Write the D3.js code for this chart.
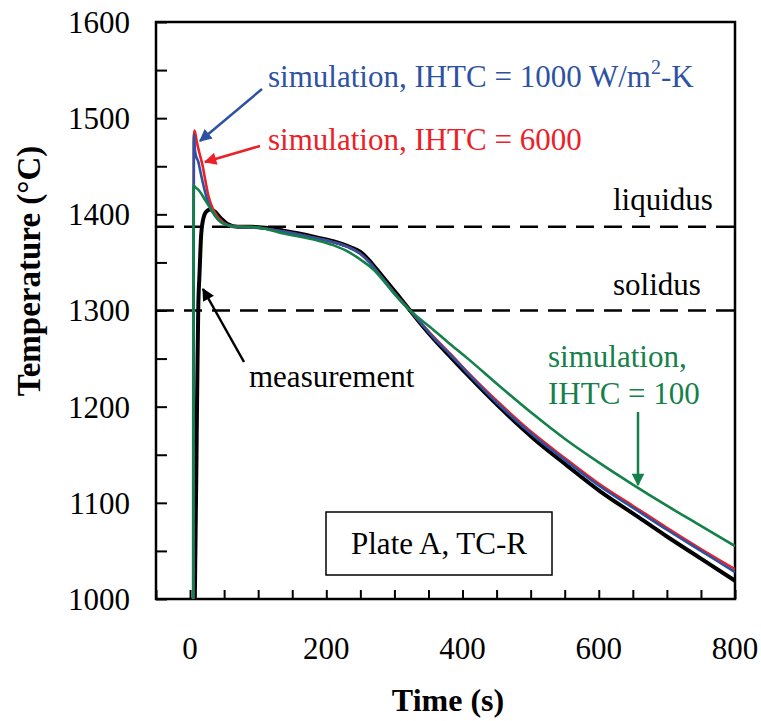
<!DOCTYPE html>
<html>
<head>
<meta charset="utf-8">
<script src="https://cdn.jsdelivr.net/npm/d3@7"></script>
<style>
  body { margin: 0; background: #fff; }
  text { font-family: "Liberation Serif", "Times New Roman", serif; }
</style>
</head>
<body>
<div id="chart"></div>
<script>
var svgWidth = 761;
var svgHeight = 721;

var margin = { top: 22, bottom: 122, right: 26, left: 156 };
var width = svgWidth - margin.left - margin.right;
var height = svgHeight - margin.top - margin.bottom;

// Data: [time (s), temperature (C)]
var measurement = [
  [7, 1000], [9, 1120], [11, 1250], [12, 1300], [14, 1340], [16, 1375], [19, 1394],
  [24, 1403], [30, 1405], [36, 1403], [45, 1396], [55, 1390], [70, 1387], [90, 1387],
  [110, 1386], [137, 1383], [160, 1380], [186, 1376], [210, 1372], [235, 1366],
  [250, 1361], [262, 1353], [275, 1342], [290, 1329], [305, 1316], [323, 1300],
  [340, 1285], [357, 1271], [382, 1252], [406, 1234], [455, 1199], [504, 1167],
  [553, 1139], [602, 1112], [650, 1089], [700, 1065], [750, 1042], [800, 1019]
];
var ihtc6000 = [
  [5, 1000], [5.5, 1480], [6.5, 1487], [10, 1475], [14, 1463], [18, 1452], [22, 1437],
  [27, 1419], [34, 1405], [41, 1397], [50, 1391], [60, 1388], [80, 1387], [100, 1386],
  [137, 1382], [160, 1379], [186, 1375], [210, 1371], [235, 1365], [250, 1359],
  [262, 1351], [275, 1340], [290, 1327], [305, 1314], [323, 1300], [340, 1286],
  [357, 1273], [382, 1255], [406, 1237], [455, 1203], [504, 1172], [553, 1145],
  [602, 1119], [650, 1097], [700, 1074], [750, 1052], [800, 1031]
];
var ihtc1000 = [
  [5, 1000], [5.5, 1475], [6, 1483], [7, 1468], [9, 1460], [12, 1455], [15, 1445],
  [19, 1432], [24, 1418], [30, 1406], [37, 1398], [45, 1392], [55, 1389], [70, 1387],
  [100, 1386], [137, 1382], [160, 1379], [186, 1375], [210, 1371], [235, 1365],
  [250, 1359], [262, 1351], [275, 1340], [290, 1327], [305, 1314], [323, 1300],
  [340, 1286], [357, 1272], [382, 1254], [406, 1236], [455, 1201], [504, 1170],
  [553, 1143], [602, 1117], [650, 1095], [700, 1072], [750, 1050], [800, 1028]
];
var ihtc100 = [
  [4.5, 1000], [5, 1430], [8, 1428], [14, 1424], [22, 1415], [32, 1404], [42, 1394],
  [54, 1389], [70, 1387], [90, 1387], [110, 1385], [137, 1380], [160, 1377],
  [186, 1373], [210, 1368], [235, 1360], [250, 1353], [270, 1342], [285, 1330],
  [300, 1317], [323, 1300], [357, 1280], [382, 1265], [406, 1251], [455, 1221],
  [504, 1192], [553, 1165], [602, 1141], [650, 1119], [700, 1097], [750, 1076],
  [800, 1055]
];

var liquidus = 1387;
var solidus = 1300;

var xTicks = d3.range(-50, 801, 50);
var xTickLabels = [0, 200, 400, 600, 800];
var yTicks = d3.range(1000, 1601, 50);
var yTickLabels = [1000, 1100, 1200, 1300, 1400, 1500, 1600];

var blue = "#2d52a3";
var red = "#ec2027";
var green = "#14804a";

var svg = d3.select("#chart")
  .append("svg")
  .attr("width", svgWidth)
  .attr("height", svgHeight);

var defs = svg.append("defs");
defs.append("clipPath").attr("id", "plotClip")
  .append("rect").attr("width", width).attr("height", height);

function marker(id, color) {
  defs.append("marker")
    .attr("id", id)
    .attr("viewBox", "0 0 10 10")
    .attr("refX", 9).attr("refY", 5)
    .attr("markerWidth", 6).attr("markerHeight", 5)
    .attr("markerUnits", "strokeWidth")
    .attr("orient", "auto")
    .append("path")
    .attr("d", "M0,0 L10,5 L0,10 Z")
    .attr("fill", color);
}
marker("arrBlue", blue);
marker("arrRed", red);
marker("arrGreen", green);
marker("arrBlack", "#000");

var chartGroup = svg.append("g")
  .attr("transform", `translate(${margin.left}, ${margin.top})`);

var xScale = d3.scaleLinear().domain([-50, 800]).range([0, width]);
var yScale = d3.scaleLinear().domain([1000, 1600]).range([height, 0]);

// axes (ticks pointing inwards)
var bottomAxis = d3.axisBottom(xScale)
  .tickValues(xTicks)
  .tickSizeInner(-9).tickSizeOuter(0)
  .tickFormat("");
var leftAxis = d3.axisLeft(yScale)
  .tickValues(yTicks)
  .tickSizeInner(-11).tickSizeOuter(0)
  .tickFormat("");

var xAxis = chartGroup.append("g")
  .attr("transform", `translate(0, ${height})`)
  .call(bottomAxis);
var yAxis = chartGroup.append("g").call(leftAxis);
[xAxis, yAxis].forEach(function(a) {
  a.selectAll("path").remove();
  a.selectAll("line").attr("stroke", "#000").attr("stroke-width", 2);
});

// frame
chartGroup.append("rect")
  .attr("width", width).attr("height", height)
  .attr("fill", "none").attr("stroke", "#000").attr("stroke-width", 2.5);

chartGroup.selectAll(".xlab")
  .data(xTickLabels)
  .enter().append("text")
  .attr("x", d => xScale(d))
  .attr("y", height + 60)
  .attr("text-anchor", "middle")
  .style("font-size", "31px")
  .text(d => d);

chartGroup.selectAll(".ylab")
  .data(yTickLabels)
  .enter().append("text")
  .attr("x", -26)
  .attr("y", d => yScale(d))
  .attr("dy", "0.35em")
  .attr("text-anchor", "end")
  .style("font-size", "31px")
  .text(d => d);

// axis titles
svg.append("text")
  .attr("x", 448)
  .attr("y", 711)
  .attr("text-anchor", "middle")
  .style("font-size", "32px").style("font-weight", "bold")
  .text("Time (s)");

svg.append("text")
  .attr("transform", "translate(40, 271) rotate(-90)")
  .attr("text-anchor", "middle")
  .style("font-size", "33px").style("font-weight", "bold")
  .text("Temperature (°C)");

// liquidus / solidus dashed lines
chartGroup.selectAll(".dash")
  .data([liquidus, solidus])
  .enter().append("line")
  .attr("x1", 0).attr("x2", width)
  .attr("y1", d => yScale(d)).attr("y2", d => yScale(d))
  .attr("stroke", "#000").attr("stroke-width", 2.5)
  .attr("stroke-dasharray", "18,10");

// curves
var line = d3.line()
  .x(d => xScale(d[0]))
  .y(d => yScale(d[1]))
  .curve(d3.curveMonotoneX);

var lines = chartGroup.append("g").attr("clip-path", "url(#plotClip)");
lines.append("path").datum(measurement)
  .attr("d", line).attr("fill", "none").attr("stroke", "#000").attr("stroke-width", 4);
lines.append("path").datum(ihtc6000)
  .attr("d", line).attr("fill", "none").attr("stroke", red).attr("stroke-width", 2.6);
lines.append("path").datum(ihtc1000)
  .attr("d", line).attr("fill", "none").attr("stroke", blue).attr("stroke-width", 2.6);
lines.append("path").datum(ihtc100)
  .attr("d", line).attr("fill", "none").attr("stroke", green).attr("stroke-width", 2.6);

// annotations
function arrow(x1, y1, x2, y2, color, id) {
  svg.append("line")
    .attr("x1", x1).attr("y1", y1).attr("x2", x2).attr("y2", y2)
    .attr("stroke", color).attr("stroke-width", 2.5)
    .attr("marker-end", `url(#${id})`);
}

var blueLabel = svg.append("text")
  .attr("x", 268).attr("y", 87)
  .attr("fill", blue).style("font-size", "31px");
blueLabel.append("tspan").text("simulation, IHTC = 1000 W/m");
blueLabel.append("tspan").attr("dy", -13).style("font-size", "20px").text("2");
blueLabel.append("tspan").attr("dy", 13).text("-K");
arrow(262, 89, 200, 141, blue, "arrBlue");

svg.append("text")
  .attr("x", 268).attr("y", 150)
  .attr("fill", red).style("font-size", "31px")
  .text("simulation, IHTC = 6000");
arrow(260, 146, 205, 162, red, "arrRed");

svg.append("text")
  .attr("x", 613).attr("y", 210)
  .style("font-size", "31px").text("liquidus");
svg.append("text")
  .attr("x", 613).attr("y", 295)
  .style("font-size", "31px").text("solidus");

svg.append("text")
  .attr("x", 249).attr("y", 387)
  .style("font-size", "31px").text("measurement");
arrow(244, 362, 203, 289, "#000", "arrBlack");

svg.append("text")
  .attr("x", 548).attr("y", 367)
  .attr("fill", green).style("font-size", "31px").text("simulation,");
svg.append("text")
  .attr("x", 548).attr("y", 404)
  .attr("fill", green).style("font-size", "31px").text("IHTC = 100");
arrow(638, 412, 638, 485, green, "arrGreen");

// label box
svg.append("rect")
  .attr("x", 326).attr("y", 512).attr("width", 226).attr("height", 63)
  .attr("fill", "#fff").attr("stroke", "#000").attr("stroke-width", 1.5);
svg.append("text")
  .attr("x", 439).attr("y", 554)
  .attr("text-anchor", "middle")
  .style("font-size", "31px").text("Plate A, TC-R");
</script>
</body>
</html>
